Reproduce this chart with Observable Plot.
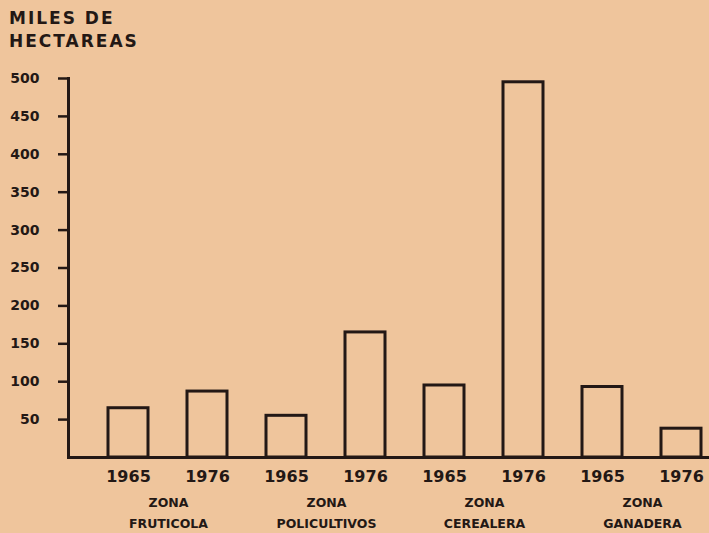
<!DOCTYPE html>
<html>
<head>
<meta charset="utf-8">
<script src="https://cdn.jsdelivr.net/npm/d3@7"></script>
<script src="https://cdn.jsdelivr.net/npm/@observablehq/plot@0.6"></script>
<style>
  html, body { margin: 0; padding: 0; background: #efc59c; }
  #wrap { position: relative; width: 709px; height: 533px; overflow: hidden; }
  #title { position: absolute; left: 9px; top: 7px; font: bold 17px "DejaVu Sans", sans-serif; line-height: 23px; color: #231815; letter-spacing: 2px; }
  #chart svg { display: block; }
</style>
</head>
<body>
<div id="wrap">
  <div id="chart"></div>
  <div id="title">MILES DE<br>HECTAREAS</div>
</div>
<script>
const keys = ["F1965", "F1976", "P1965", "P1976", "C1965", "C1976", "G1965", "G1976"];
const years = ["1965", "1976", "1965", "1976", "1965", "1976", "1965", "1976"];
const zones = ["FRUTICOLA", "POLICULTIVOS", "CEREALERA", "GANADERA"];
const values = [65, 87, 55, 165, 95, 495, 93, 38];
const yTicks = [50, 100, 150, 200, 250, 300, 350, 400, 450, 500];

const ink = "#231815";
const data = keys.map((k, i) => ({key: k, year: years[i], value: values[i]}));
const yearOf = new Map(keys.map((k, i) => [k, years[i]]));
const zoneData = zones.map((z, i) => ({key: keys[2 * i], label: "ZONA\n" + z}));

const chart = Plot.plot({
  width: 709,
  height: 533,
  marginLeft: 68,
  marginRight: 0,
  marginTop: 78,
  marginBottom: 76,
  style: {background: "transparent", color: ink, fontFamily: "'DejaVu Sans', sans-serif"},
  x: {domain: keys, range: [86, 722], paddingInner: 0.5, paddingOuter: 0.25},
  y: {domain: [0, 500]},
  marks: [
    Plot.barY(data, {x: "key", y: "value", fill: "none", stroke: ink, strokeWidth: 3}),
    Plot.ruleY([0], {stroke: ink, strokeWidth: 3}),
    Plot.frame({anchor: "left", stroke: ink, strokeWidth: 3}),
    Plot.axisY({ticks: yTicks, tickSize: 10, tickPadding: 19, fontSize: 14, fontWeight: "bold", label: null, strokeWidth: 2.5, tickFormat: d => String(d)}),
    Plot.axisX({tickSize: 0, tickPadding: 13, fontSize: 16, fontWeight: "bold", label: null, tickFormat: d => yearOf.get(d)}),
    Plot.text(zoneData, {x: "key", y: () => 0, text: "label", dx: 40, dy: 34, lineAnchor: "top", lineHeight: 1.7, fontSize: 12.5, fontWeight: "bold", fill: ink})
  ]
});
document.getElementById("chart").appendChild(chart);
</script>
</body>
</html>
